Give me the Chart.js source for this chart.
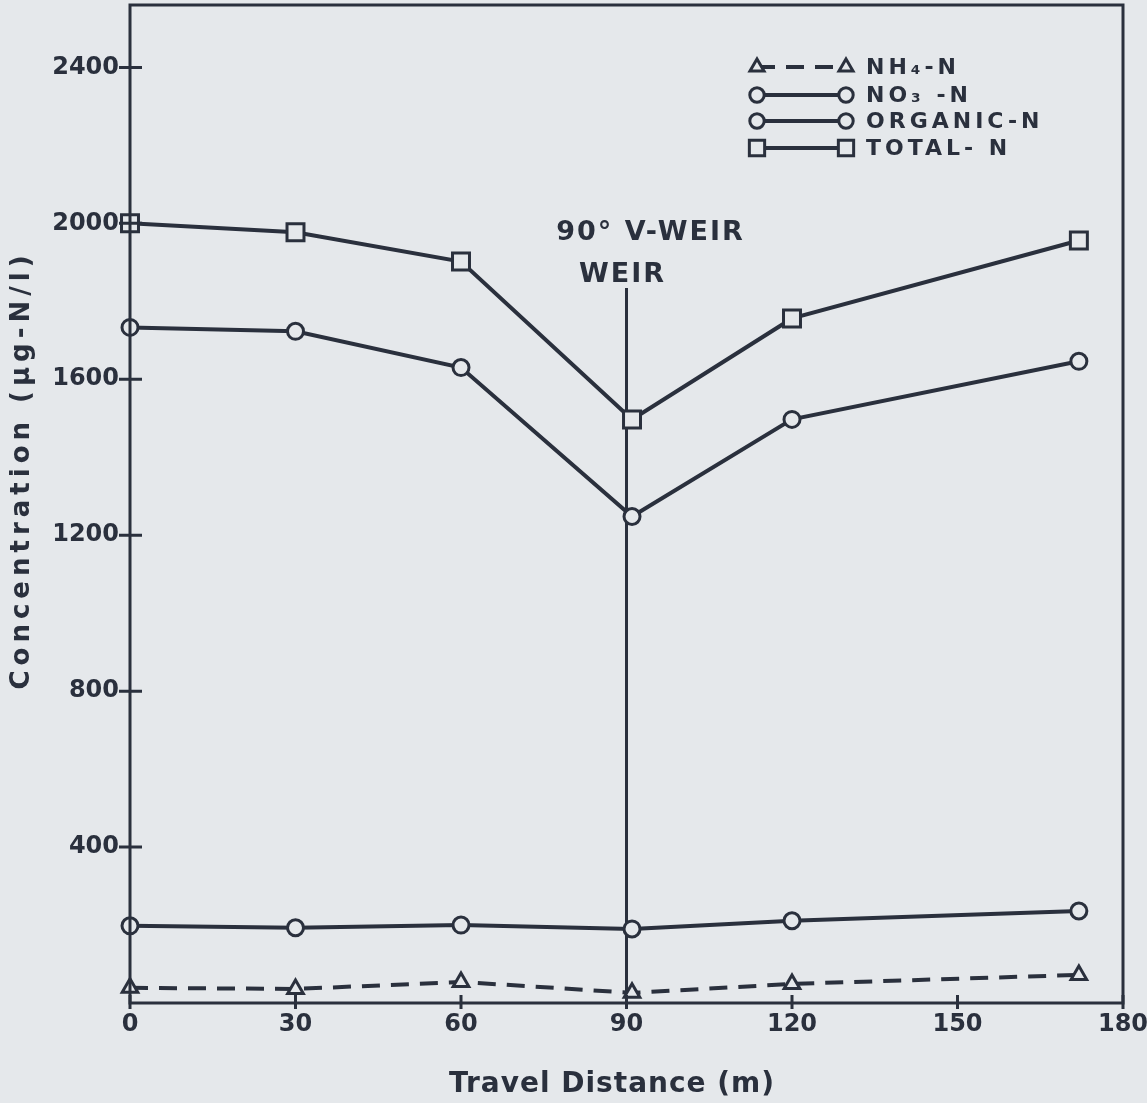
<!DOCTYPE html>
<html lang="en">
<head>
  <meta charset="UTF-8">
  <title>Nitrogen along the travel distance</title>
  <script src="https://cdn.jsdelivr.net/npm/chart.js"></script>
  <style>
    html, body {
      margin: 0;
      padding: 0;
      background-color: #e5e8eb;
    }
    #wrap {
      width: 1147px;
      height: 1103px;
    }
  </style>
</head>
<body>
  <div id="wrap">
    <canvas id="nitrogenChart" width="1147" height="1103"></canvas>
  </div>

  <script>
    // Sampling stations (m) and measured concentrations (ug-N/l)
    var distance = [0, 30, 60, 91, 120, 172];
    var nh4N = [39, 36, 54, 26, 49, 72];
    var no3N = [1733, 1723, 1630, 1248, 1497, 1646];
    var organicN = [198, 193, 200, 190, 211, 236];
    var totalN = [2000, 1977, 1902, 1497, 1756, 1956];

    var seriesLabels = ['NH\u2084-N', 'NO\u2083 -N', 'ORGANIC-N', 'TOTAL- N'];
    var xTicks = [0, 30, 60, 90, 120, 150, 180];
    var yTicks = [400, 800, 1200, 1600, 2000, 2400];
    var weirAt = 90;
    var weirLabels = ['90\u00b0 V-WEIR', 'WEIR'];

    var ink = '#2a303d';
    var paper = '#e5e8eb';
    var fontFamily = "'DejaVu Sans', sans-serif";

    function points(ys) {
      return ys.map(function(y, i) { return { x: distance[i], y: y }; });
    }

    function series(label, ys, style, dash) {
      return {
        label: label,
        data: points(ys),
        borderColor: ink,
        borderWidth: 4,
        borderDash: dash || [],
        pointStyle: style.shape,
        pointRadius: style.radius,
        pointBorderWidth: 3,
        pointBorderColor: ink,
        pointBackgroundColor: paper,
        tension: 0,
        clip: false
      };
    }

    var triangle = { shape: 'triangle', radius: 9 };
    var circle = { shape: 'circle', radius: 8 };
    var square = { shape: 'rect', radius: 12 };

    // frame, ticks, weir marker, legend and axis titles
    var decorations = {
      id: 'decorations',
      beforeDraw: function(chart) {
        var ctx = chart.ctx;
        ctx.save();
        ctx.fillStyle = paper;
        ctx.fillRect(0, 0, chart.width, chart.height);
        ctx.restore();
      },
      beforeDatasetsDraw: function(chart) {
        var ctx = chart.ctx;
        var area = chart.chartArea;
        var wx = chart.scales.x.getPixelForValue(weirAt);
        ctx.save();
        ctx.strokeStyle = ink;
        ctx.lineWidth = 3;
        ctx.beginPath();
        ctx.moveTo(wx, 288);
        ctx.lineTo(wx, area.bottom);
        ctx.stroke();

        ctx.fillStyle = ink;
        ctx.font = 'bold 27px ' + fontFamily;
        ctx.letterSpacing = '2px';
        ctx.textAlign = 'center';
        ctx.textBaseline = 'alphabetic';
        ctx.fillText(weirLabels[0], wx + 24, 240);
        ctx.fillText(weirLabels[1], wx - 4, 282);
        ctx.restore();
      },
      afterDatasetsDraw: function(chart) {
        var ctx = chart.ctx;
        var area = chart.chartArea;
        var xs = chart.scales.x;
        var ys = chart.scales.y;
        ctx.save();
        ctx.strokeStyle = ink;
        ctx.lineWidth = 3;
        ctx.strokeRect(area.left, area.top, area.right - area.left, area.bottom - area.top);

        ctx.beginPath();
        yTicks.forEach(function(v) {
          var py = ys.getPixelForValue(v);
          ctx.moveTo(area.left - 11, py);
          ctx.lineTo(area.left + 12, py);
        });
        xTicks.forEach(function(v) {
          var px = xs.getPixelForValue(v);
          ctx.moveTo(px, area.bottom - 8);
          ctx.lineTo(px, area.bottom + 6);
        });
        ctx.stroke();

        // legend: a short line with a marker at both ends
        var rows = [67, 95, 121, 148];
        var x0 = 757, x1 = 846;
        chart.data.datasets.forEach(function(ds, i) {
          var y = rows[i];
          ctx.save();
          ctx.strokeStyle = ink;
          ctx.lineWidth = 4;
          ctx.setLineDash(ds.borderDash);
          ctx.beginPath();
          ctx.moveTo(x0, y);
          ctx.lineTo(x1, y);
          ctx.stroke();
          ctx.setLineDash([]);
          ctx.fillStyle = paper;
          ctx.lineWidth = 3;
          var opts = { pointStyle: ds.pointStyle, radius: ds.pointRadius * 0.9, rotation: 0, borderWidth: 3 };
          Chart.helpers.drawPoint(ctx, opts, x0, y);
          Chart.helpers.drawPoint(ctx, opts, x1, y);
          ctx.restore();

          ctx.save();
          ctx.fillStyle = ink;
          ctx.font = 'bold 22px ' + fontFamily;
          ctx.letterSpacing = '4px';
          ctx.textAlign = 'left';
          ctx.textBaseline = 'middle';
          ctx.fillText(ds.label, 866, y + 1);
          ctx.restore();
        });

        // axis titles
        ctx.fillStyle = ink;
        ctx.font = 'bold 28px ' + fontFamily;
        ctx.letterSpacing = '1px';
        ctx.textAlign = 'center';
        ctx.textBaseline = 'middle';
        ctx.fillText('Travel Distance (m)', 612, 1085);
        ctx.font = 'bold 26px ' + fontFamily;
        ctx.letterSpacing = '5px';
        ctx.translate(22, 470);
        ctx.rotate(-Math.PI / 2);
        ctx.fillText('Concentration (\u00b5g-N/l)', 0, 0);
        ctx.restore();
      }
    };

    var tickFont = { family: fontFamily, size: 24, weight: 'bold' };

    // keep the plot box fixed: no extra room reserved for overhanging labels
    function noOverhang(scale) {
      scale.paddingTop = 0;
      scale.paddingBottom = 0;
      scale.paddingLeft = 0;
      scale.paddingRight = 0;
    }

    new Chart(document.getElementById('nitrogenChart').getContext('2d'), {
      type: 'line',
      data: {
        datasets: [
          series(seriesLabels[0], nh4N, triangle, [18, 11]),
          series(seriesLabels[1], no3N, circle),
          series(seriesLabels[2], organicN, circle),
          series(seriesLabels[3], totalN, square)
        ]
      },
      options: {
        responsive: false,
        animation: false,
        events: [],
        layout: { autoPadding: false, padding: { top: 5, right: 24, left: 0, bottom: 0 } },
        plugins: {
          legend: { display: false },
          tooltip: { enabled: false },
          title: { display: false }
        },
        scales: {
          x: {
            type: 'linear',
            min: 0,
            max: 180,
            afterBuildTicks: function(scale) {
              scale.ticks = xTicks.map(function(v) { return { value: v }; });
            },
            afterFit: function(scale) { scale.height = 100; noOverhang(scale); },
            grid: { display: false, drawTicks: false },
            border: { display: false },
            ticks: {
              padding: 7, color: ink, font: tickFont, maxRotation: 0, autoSkip: false,
              callback: function(v) { return String(v); }
            }
          },
          y: {
            type: 'linear',
            min: 0,
            max: 2560,
            afterBuildTicks: function(scale) {
              scale.ticks = yTicks.map(function(v) { return { value: v }; });
            },
            afterFit: function(scale) { scale.width = 130; noOverhang(scale); },
            grid: { display: false, drawTicks: false },
            border: { display: false },
            ticks: {
              padding: 11, color: ink, font: tickFont, autoSkip: false,
              callback: function(v) { return String(v); }
            }
          }
        }
      },
      plugins: [decorations]
    });
  </script>
</body>
</html>
